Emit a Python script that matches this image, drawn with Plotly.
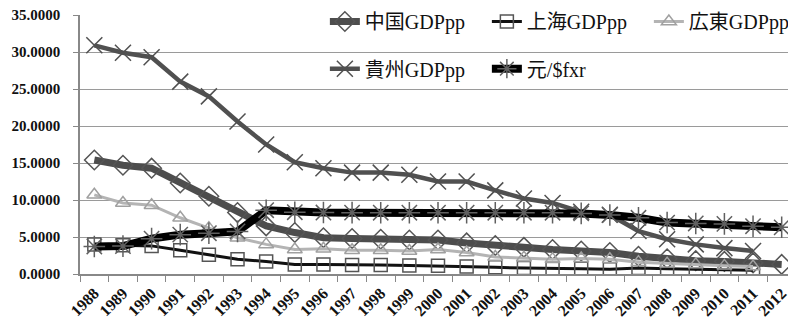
import plotly.graph_objects as go

years = [str(y) for y in range(1988, 2013)]

china = [15.4, 14.7, 14.3, 12.3, 10.5, 8.3, 6.5, 5.6, 4.9, 4.8, 4.7, 4.6, 4.6, 4.2, 3.85,
         3.6, 3.3, 3.1, 2.9, 2.4, 2.05, 1.8, 1.7, 1.5, 1.3]
shanghai = [4.0, 3.9, 3.8, 3.2, 2.6, 2.0, 1.7, 1.3, 1.3, 1.2, 1.2, 1.15, 1.1, 1.0, 0.9,
            0.8, 0.7, 0.7, 0.65, 0.8, 0.7, 0.6, 0.55, 0.5, None]
guangdong = [10.7, 9.6, 9.3, 7.6, 6.2, 4.9, 4.0, 3.3, 3.4, 3.2, 3.2, 3.1, 3.3, 2.9, 2.3,
             2.2, 2.0, 2.1, 2.0, 1.6, 1.4, 1.3, 1.1, 1.0, None]
guizhou = [30.9, 29.9, 29.3, 26.0, 24.0, 20.6, 17.5, 15.1, 14.3, 13.7, 13.7, 13.4, 12.5, 12.5, 11.3,
           10.2, 9.6, 8.4, 8.0, 5.8, 4.7, 4.0, 3.5, 3.1, None]
fxr = [3.72, 3.77, 4.78, 5.32, 5.51, 5.76, 8.62, 8.35, 8.31, 8.29, 8.28, 8.28, 8.28, 8.28, 8.28,
       8.28, 8.28, 8.19, 7.97, 7.60, 6.95, 6.83, 6.77, 6.46, 6.31]

FONT = "'Liberation Serif', 'Times New Roman', 'Noto Sans CJK JP', serif"

fig = go.Figure()

def add(name, ys, lcolor, lwidth, symbol, mcolor, msize, legend):
    fig.add_trace(go.Scatter(
        x=years, y=ys, name=name, mode="lines+markers",
        line=dict(color=lcolor, width=lwidth),
        marker=dict(symbol=symbol, size=msize, color=mcolor,
                    line=dict(color=mcolor, width=1.5)),
        legend=legend, connectgaps=False,
    ))

add("中国GDPpp", china, "#4d4d4d", 7, "diamond-open", "#555555", 15, "legend")
add("上海GDPpp", shanghai, "#111111", 3, "square-open", "#555555", 13, "legend")
add("広東GDPpp", guangdong, "#b4b4b4", 3, "triangle-up-open", "#a0a0a0", 13, "legend")
add("貴州GDPpp", guizhou, "#505050", 4.5, "x-thin-open", "#505050", 16, "legend2")
add("元/$fxr", fxr, "#000000", 8, "asterisk-open", "#606060", 18, "legend2")

fig.update_layout(
    width=788, height=312,
    margin=dict(l=72, r=0, t=7, b=46, autoexpand=False),
    paper_bgcolor="white", plot_bgcolor="white",
    font=dict(family=FONT, color="#111111", size=16),
    legend=dict(orientation="h", x=0.342, y=1.05, xanchor="left", yanchor="top",
                bgcolor="rgba(0,0,0,0)", font=dict(size=20, family=FONT),
                entrywidth=117, traceorder="normal"),
    legend2=dict(orientation="h", x=0.342, y=0.868, xanchor="left", yanchor="top",
                 bgcolor="rgba(0,0,0,0)", font=dict(size=20, family=FONT),
                 entrywidth=117, traceorder="normal"),
    xaxis=dict(type="category", tickangle=-45, tickson="boundaries",
               ticks="outside", ticklen=6, tickcolor="#888888",
               showline=True, linecolor="#888888", linewidth=1.5,
               showgrid=False, automargin=False, ticklabeloverflow="allow",
               ticklabelstandoff=2,
               tickfont=dict(size=16, family=FONT, weight="bold"),
               range=[-0.5, 24.5]),
    yaxis=dict(range=[0, 35], tickvals=[0, 5, 10, 15, 20, 25, 30, 35],
               tickformat=".4f", ticks="outside", ticklen=5, tickcolor="#888888",
               showline=True, linecolor="#888888", linewidth=1.5,
               gridcolor="#9a9a9a", gridwidth=1, zeroline=False, automargin=False,
               ticklabelstandoff=10, ticklabeloverflow="allow",
               tickfont=dict(size=15, family=FONT, weight="bold")),
)

fig.write_html("out.html")
